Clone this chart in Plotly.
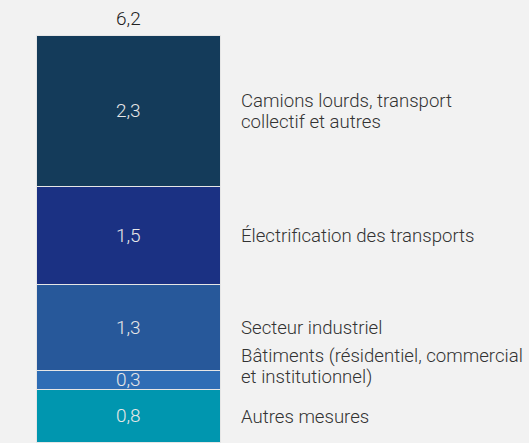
import plotly.graph_objects as go

categories = ["Autres mesures",
              "Bâtiments (résidentiel, commercial<br>et institutionnel)",
              "Secteur industriel",
              "Électrification des transports",
              "Camions lourds, transport<br>collectif et autres"]
values = [0.8, 0.3, 1.3, 1.5, 2.3]
colors = ["#0096AF", "#2E6DB5", "#27589A", "#1B3183", "#143B5A"]
label_offsets = [0.0, 0.21, 0.0, 0.0, 0.0]
total = round(sum(values), 1)

FONT = "Roboto"
LINE_PX = 21
fig = go.Figure()
base = 0.0
for cat, v, c, off in zip(categories, values, colors, label_offsets):
    fig.add_trace(go.Bar(
        x=[0], y=[v], width=1, marker=dict(color=c, line=dict(color="#E6E6E6", width=1.5)),
        text=[v], texttemplate="%{y:.1f}", textposition="inside", insidetextanchor="middle",
        constraintext="none", textangle=0,
        textfont=dict(family=FONT, size=19, color="#E8E8E8", weight=300),
        showlegend=False, hoverinfo="skip"))
    lines = cat.split("<br>")
    n = len(lines)
    for i, line in enumerate(lines):
        shift = ((n - 1) / 2 - i) * LINE_PX
        fig.add_annotation(x=0.598, y=base + v / 2 + off, text=line, showarrow=False,
                           xanchor="left", yanchor="middle", align="left", yshift=shift,
                           font=dict(family=FONT, size=18.6, color="#333333", weight=300))
    base += v

fig.add_annotation(x=0, y=total, text=f"{total:.1f}".replace(".", ","), showarrow=False,
                   yanchor="bottom", yshift=4,
                   font=dict(family=FONT, size=19, color="#222222", weight=300))

fig.update_layout(
    width=529, height=443, margin=dict(l=0, r=0, t=0, b=0),
    barmode="stack", bargap=0, separators=", ",
    paper_bgcolor="#F2F2F2", plot_bgcolor="#F2F2F2",
    xaxis=dict(range=[-0.701, 2.174], visible=False, fixedrange=True),
    yaxis=dict(range=[0, 6.743], visible=False, fixedrange=True),
)
fig.write_html("out.html", config={"displayModeBar": False},
               post_script="document.body.style.margin='0';")
